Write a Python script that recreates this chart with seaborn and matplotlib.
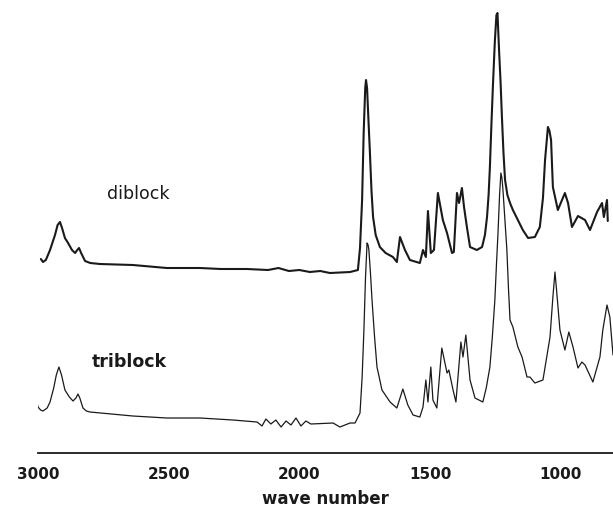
import seaborn as sns
import pandas as pd
import matplotlib.pyplot as plt
from matplotlib.ticker import MultipleLocator

# IR spectra of the diblock and triblock copolymers (absorbance, arbitrary units, offset)

diblock_wn = [2989, 2981, 2970, 2954, 2935, 2925, 2916, 2908, 2897, 2885, 2870, 2858,
              2850, 2843, 2835, 2820, 2800, 2763, 2637, 2507, 2380, 2300, 2200, 2120,
              2080, 2040, 2000, 1960, 1920, 1883, 1806, 1776, 1768, 1760, 1754, 1748,
              1745, 1741, 1736, 1730, 1724, 1718, 1708, 1692, 1670, 1642, 1627, 1615,
              1596, 1577, 1539, 1527, 1516, 1508, 1497, 1485, 1470, 1451, 1435, 1416,
              1409, 1397, 1389, 1378, 1370, 1359, 1347, 1321, 1301, 1290, 1282, 1276,
              1271, 1265, 1259, 1252, 1246, 1242, 1236, 1230, 1225, 1219, 1213, 1204,
              1194, 1183, 1164, 1145, 1125, 1099, 1080, 1068, 1060, 1049, 1043, 1037,
              1030, 1011, 984, 972, 957, 934, 907, 888, 861, 842, 835, 823, 820]
diblock_abs = [194, 191, 193, 203, 218, 228, 231, 225, 215, 210, 203, 200,
               203, 205, 200, 192, 190, 189, 188, 185, 185, 184, 184, 183,
               185, 182, 183, 181, 182, 180, 181, 183, 205, 253, 320, 365,
               373, 365, 335, 300, 262, 236, 218, 206, 200, 196, 191, 216,
               203, 193, 190, 203, 196, 242, 200, 203, 260, 233, 220, 200,
               201, 260, 250, 265, 246, 226, 206, 203, 206, 218, 236, 258,
               286, 330, 370, 412, 438, 440, 403, 370, 336, 300, 273, 258,
               250, 243, 233, 223, 215, 216, 226, 255, 293, 326, 322, 313,
               266, 243, 260, 250, 226, 237, 233, 223, 241, 250, 236, 253, 232]

triblock_wn = [3008, 3000, 2990, 2981, 2965, 2954, 2940, 2930, 2920, 2910, 2897, 2880,
               2866, 2855, 2847, 2840, 2828, 2815, 2801, 2637, 2507, 2380, 2254, 2162,
               2143, 2128, 2109, 2090, 2070, 2051, 2032, 2013, 1994, 1975, 1956, 1871,
               1845, 1806, 1787, 1768, 1760, 1753, 1747, 1741, 1737, 1734, 1728, 1722,
               1712, 1703, 1684, 1653, 1627, 1604, 1585, 1565, 1539, 1527, 1516, 1508,
               1497, 1489, 1474, 1455, 1435, 1428, 1412, 1401, 1382, 1374, 1363, 1347,
               1328, 1298, 1285, 1271, 1262, 1252, 1246, 1240, 1234, 1229, 1225, 1221,
               1214, 1206, 1200, 1194, 1183, 1164, 1148, 1129, 1118, 1099, 1068, 1041,
               1030, 1022, 1015, 1003, 984, 969, 953, 934, 919, 907, 877, 850,
               839, 823, 812, 800]
triblock_abs = [55, 46, 43, 42, 45, 51, 65, 78, 86, 78, 63, 56,
                52, 55, 59, 55, 45, 42, 41, 37, 35, 35, 33, 31,
                27, 34, 29, 33, 26, 32, 28, 35, 27, 32, 29, 30,
                26, 30, 30, 40, 75, 123, 175, 210, 208, 203, 180, 153,
                115, 86, 63, 51, 45, 64, 48, 38, 36, 46, 73, 51,
                86, 53, 45, 105, 80, 83, 63, 51, 111, 96, 118, 73,
                55, 51, 65, 86, 115, 153, 188, 220, 258, 280, 275, 263,
                235, 203, 165, 133, 126, 106, 96, 76, 76, 70, 73, 116,
                156, 181, 160, 123, 103, 121, 106, 85, 91, 88, 71, 96,
                123, 148, 136, 98]

df = pd.concat([
    pd.DataFrame({'wn': diblock_wn, 'abs': diblock_abs, 'sample': 'diblock'}),
    pd.DataFrame({'wn': triblock_wn, 'abs': triblock_abs, 'sample': 'triblock'}),
])

sns.set_style('white')
fig = plt.figure(figsize=(6.13, 5.09), dpi=100)
ax = fig.add_axes([0.062, 0.11, 0.938, 0.89])

sns.lineplot(data=df[df['sample'] == 'diblock'], x='wn', y='abs', color='#1a1a1a',
             linewidth=1.5, estimator=None, sort=False, ax=ax)
sns.lineplot(data=df[df['sample'] == 'triblock'], x='wn', y='abs', color='#1a1a1a',
             linewidth=0.9, estimator=None, sort=False, ax=ax)

ax.set_xlim(3000, 800)
ax.set_ylim(0, 453)

for side in ['left', 'right', 'top']:
    ax.spines[side].set_visible(False)
ax.spines['bottom'].set_linewidth(1.3)
ax.spines['bottom'].set_color('#1a1a1a')

ax.xaxis.set_major_locator(MultipleLocator(500))
ax.xaxis.set_minor_locator(MultipleLocator(250))
ax.tick_params(axis='x', which='major', direction='out', length=6, width=1.3,
               labelsize=11, pad=4, colors='#1a1a1a')
ax.tick_params(axis='x', which='minor', direction='out', length=3, width=1.2,
               colors='#1a1a1a')
for lbl in ax.get_xticklabels():
    lbl.set_fontweight('bold')
ax.set_yticks([])

ax.set_xlabel('wave number', fontsize=12, fontweight='bold', labelpad=6, color='#1a1a1a')
ax.set_ylabel('')

ax.text(2736, 259, 'diblock', fontsize=12.5, ha='left', va='center', color='#1a1a1a')
ax.text(2793, 91, 'triblock', fontsize=12.5, fontweight='bold', ha='left', va='center',
        color='#1a1a1a')

fig.savefig('out.png', dpi=100)
